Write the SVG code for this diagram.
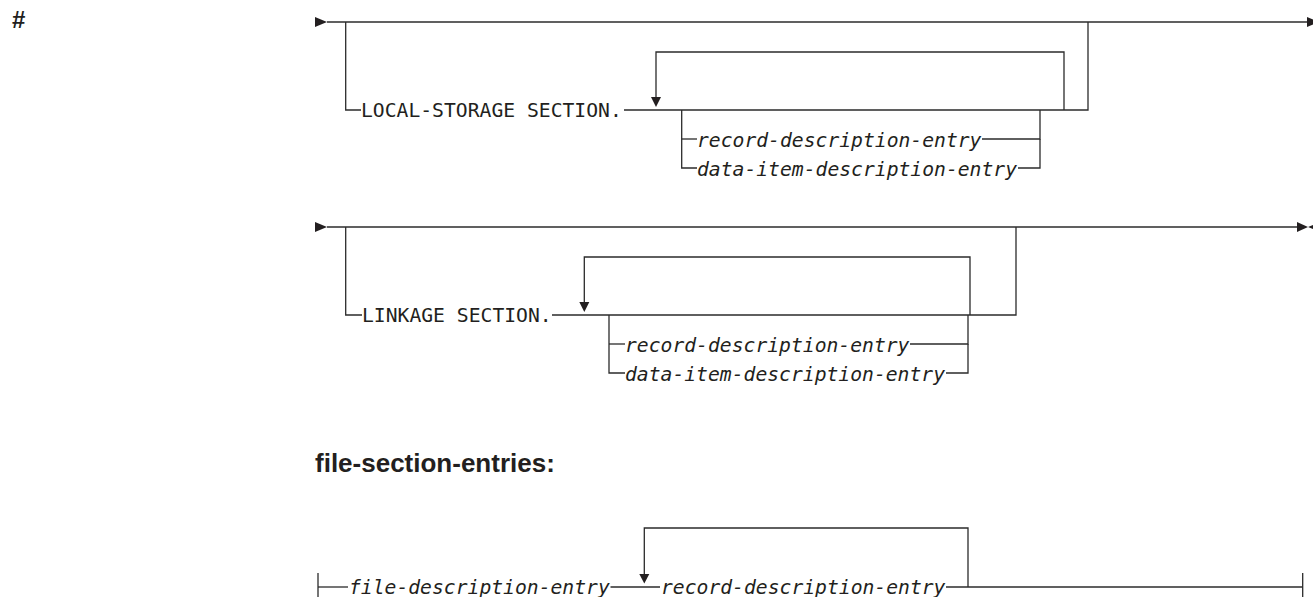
<svg xmlns="http://www.w3.org/2000/svg" width="1313" height="597" viewBox="0 0 1313 597">
<style>
.ln{fill:none;stroke:#2b2b2b;stroke-width:1.3}
.ar{fill:#231f20;stroke:none}
.kw{font-family:"DejaVu Sans Mono","Liberation Mono",monospace;font-size:19.7px;fill:#231f20}
.it{font-family:"DejaVu Sans Mono","Liberation Mono",monospace;font-size:19.7px;font-style:italic;fill:#231f20}
.hd{font-family:"Liberation Sans",Arial,sans-serif;font-weight:bold;fill:#231f20}
</style>
<rect width="1313" height="597" fill="#ffffff"/>
<g id="hash"><text class="hd" x="12" y="28" font-size="24">#</text></g>
<g id="local-storage"><text class="kw" x="361" y="117">LOCAL-STORAGE SECTION.</text></g>
<g id="ls-record"><text class="it" x="697" y="146.5">record-description-entry</text></g>
<g id="ls-data"><text class="it" x="697" y="175.5">data-item-description-entry</text></g>
<g id="linkage"><text class="kw" x="362" y="322">LINKAGE SECTION.</text></g>
<g id="lk-record"><text class="it" x="625" y="351.5">record-description-entry</text></g>
<g id="lk-data"><text class="it" x="625" y="380.5">data-item-description-entry</text></g>
<g id="heading"><text class="hd" x="315" y="472" font-size="26">file-section-entries:</text></g>
<g id="fd-entry"><text class="it" x="349" y="594">file-description-entry</text></g>
<g id="fs-record"><text class="it" x="661" y="594">record-description-entry</text></g>
<g id="connectors">
<!-- diagram 1 -->
<polygon class="ar" points="315,17 327,22 315,27"/>
<path class="ln" d="M327,22 H1308"/>
<polygon class="ar" points="1307,17 1319,22 1307,27"/>
<path class="ln" d="M345.7,22 V110 H361"/>
<path class="ln" d="M624,110 H1088 V22"/>
<path class="ln" d="M656,98 V52 H1064 V110"/>
<polygon class="ar" points="651,97 661,97 656,107"/>
<path class="ln" d="M681.7,110 V168 H697"/>
<path class="ln" d="M681.7,139 H697"/>
<path class="ln" d="M982,139 H1040 V110"/>
<path class="ln" d="M1018,168 H1040 V139"/>
<!-- diagram 2 -->
<polygon class="ar" points="315,222 327,227 315,232"/>
<path class="ln" d="M327,227 H1298"/>
<polygon class="ar" points="1297,222 1308,227 1297,232"/>
<polygon class="ar" points="1320,222 1308,227 1320,232"/>
<path class="ln" d="M345.7,227 V315 H362"/>
<path class="ln" d="M552,315 H1016 V227"/>
<path class="ln" d="M584.3,303 V257 H970 V315"/>
<polygon class="ar" points="579.3,302 589.3,302 584.3,312"/>
<path class="ln" d="M609,315 V373 H625"/>
<path class="ln" d="M609,344 H625"/>
<path class="ln" d="M910,344 H968 V315"/>
<path class="ln" d="M946,373 H968 V344"/>
<!-- diagram 3 -->
<path class="ln" d="M318,573 V597"/>
<path class="ln" d="M318,587 H348"/>
<path class="ln" d="M610.5,587 H660"/>
<path class="ln" d="M644.3,577 V528 H968 V587"/>
<polygon class="ar" points="639.3,574 649.3,574 644.3,583.5"/>
<path class="ln" d="M946,587 H1302.7"/>
<path class="ln" d="M1302.7,573 V597"/>
</g>
</svg>
